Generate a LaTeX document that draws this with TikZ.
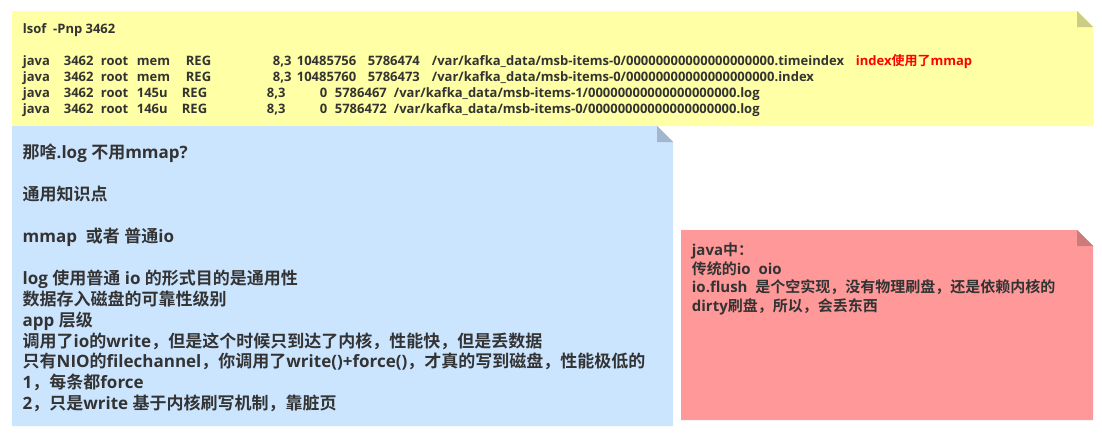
\documentclass[tikz,border=0pt]{standalone}
\usepackage{fontspec}
\setmainfont{Open Sans}
\newfontfamily\latinfont{Open Sans}
\newfontfamily\cjkfont{Noto Sans CJK SC}[BoldFont={Noto Sans CJK SC Bold}]
\usetikzlibrary{calc}

% switch to the CJK font for Chinese runs and back
\chardef\cjkcls=10
\count255=0
\loop\XeTeXcharclass\count255=0 \ifnum\count255<255 \advance\count255 by 1 \repeat
\count255="3000
\loop\XeTeXcharclass\count255=\cjkcls \ifnum\count255<"303F \advance\count255 by 1 \repeat
\count255="4E00
\loop\XeTeXcharclass\count255=\cjkcls \ifnum\count255<"9FFF \advance\count255 by 1 \repeat
\count255="FF00
\loop\XeTeXcharclass\count255=\cjkcls \ifnum\count255<"FFEF \advance\count255 by 1 \repeat
\XeTeXinterchartokenstate=1
\XeTeXinterchartoks 0 \cjkcls = {\cjkfont}
\XeTeXinterchartoks 4095 \cjkcls = {\cjkfont}
\XeTeXinterchartoks \cjkcls 0 = {\latinfont}
\XeTeXinterchartoks \cjkcls 4095 = {\latinfont}

\definecolor{notetext}{HTML}{333333}
\definecolor{alertred}{HTML}{FF0000}
\definecolor{yellowpaper}{HTML}{FFFFA5}
\definecolor{yellowfold}{HTML}{CCCC84}
\definecolor{bluepaper}{HTML}{CCE5FF}
\definecolor{bluefold}{HTML}{A3B7CC}
\definecolor{redpaper}{HTML}{FF9999}
\definecolor{redfold}{HTML}{CC7A7A}

% one column of the lsof listing
\newcommand\lsofcol[2]{\rlap{\hspace*{#1pt}#2}}

\begin{document}
\begin{tikzpicture}[
		x=1pt, y=-1pt,
		note/.style={anchor=north west, inner sep=0pt, align=left, text=notetext},
	]
	\useasboundingbox (0,0) rectangle (1102,432);
	% yellow note
	\coordinate (ya) at (12,11);
	\coordinate (yb) at (1093,126);
	\coordinate (yc) at (yb|-ya);
	\fill[yellowpaper] (ya) -- ($(yc)+(-16,0)$) -- ($(yc)+(0,16)$) -- (yb) -- (ya|-yb) -- cycle;
	\fill[yellowfold] ($(yc)+(-16,0)$) -- ($(yc)+(0,16)$) -- ($(yc)+(-16,16)$) -- cycle;
	% blue note
	\coordinate (ba) at (12,126);
	\coordinate (bb) at (673,426);
	\coordinate (bc) at (bb|-ba);
	\fill[bluepaper] (ba) -- ($(bc)+(-16,0)$) -- ($(bc)+(0,16)$) -- (bb) -- (ba|-bb) -- cycle;
	\fill[bluefold] ($(bc)+(-16,0)$) -- ($(bc)+(0,16)$) -- ($(bc)+(-16,16)$) -- cycle;
	% red note
	\coordinate (ra) at (681,230);
	\coordinate (rb) at (1093,420);
	\coordinate (rc) at (rb|-ra);
	\fill[redpaper] (ra) -- ($(rc)+(-16,0)$) -- ($(rc)+(0,16)$) -- (rb) -- (ra|-rb) -- cycle;
	\fill[redfold] ($(rc)+(-16,0)$) -- ($(rc)+(0,16)$) -- ($(rc)+(-16,16)$) -- cycle;

	\node[note, font=\fontsize{13}{16}\selectfont\bfseries] (lsof) at (22.7,23.1) {%
		lsof\ \ -Pnp 3462\\
		\\
		\lsofcol{0}{java}\lsofcol{41}{3462}\lsofcol{78}{root}\lsofcol{114}{mem}\lsofcol{163}{REG}\lsofcol{250}{8,3}\lsofcol{274}{10485756}\lsofcol{345}{5786474}\lsofcol{409}{/var/kafka\_data/msb-items-0/00000000000000000000.timeindex}\lsofcol{833}{\textcolor{alertred}{index使用了mmap}}\\
		\lsofcol{0}{java}\lsofcol{41}{3462}\lsofcol{78}{root}\lsofcol{114}{mem}\lsofcol{163}{REG}\lsofcol{250}{8,3}\lsofcol{274}{10485760}\lsofcol{345}{5786473}\lsofcol{409}{/var/kafka\_data/msb-items-0/00000000000000000000.index}\\
		\lsofcol{0}{java}\lsofcol{41}{3462}\lsofcol{78}{root}\lsofcol{114}{145u}\lsofcol{159}{REG}\lsofcol{244}{8,3}\lsofcol{297}{0}\lsofcol{312}{5786467}\lsofcol{371}{/var/kafka\_data/msb-items-1/00000000000000000000.log}\\
		\lsofcol{0}{java}\lsofcol{41}{3462}\lsofcol{78}{root}\lsofcol{114}{146u}\lsofcol{159}{REG}\lsofcol{244}{8,3}\lsofcol{297}{0}\lsofcol{312}{5786472}\lsofcol{371}{/var/kafka\_data/msb-items-0/00000000000000000000.log}};

	\node[note, font=\fontsize{17}{20.95}\selectfont\bfseries] (why) at (22.5,143.7) {%
		那啥.log 不用mmap?\\
		\\
		通用知识点\\
		\\
		mmap\ \ 或者 普通io\\
		\\
		log 使用普通 io 的形式目的是通用性\\
		数据存入磁盘的可靠性级别\\
		app 层级\\
		调用了io的write，但是这个时候只到达了内核，性能快，但是丢数据\\
		只有NIO的filechannel，你调用了write()+force()，才真的写到磁盘，性能极低的\\
		1，每条都force\\
		2，只是write 基于内核刷写机制，靠脏页};

	\node[note, font=\fontsize{15}{18.7}\selectfont\bfseries] (javaio) at (691.7,242.4) {%
		java中：\\
		传统的io\ \ oio\\
		io.flush\ \ 是个空实现，没有物理刷盘，还是依赖内核的\\
		dirty刷盘，所以，会丢东西};
\end{tikzpicture}
\end{document}
